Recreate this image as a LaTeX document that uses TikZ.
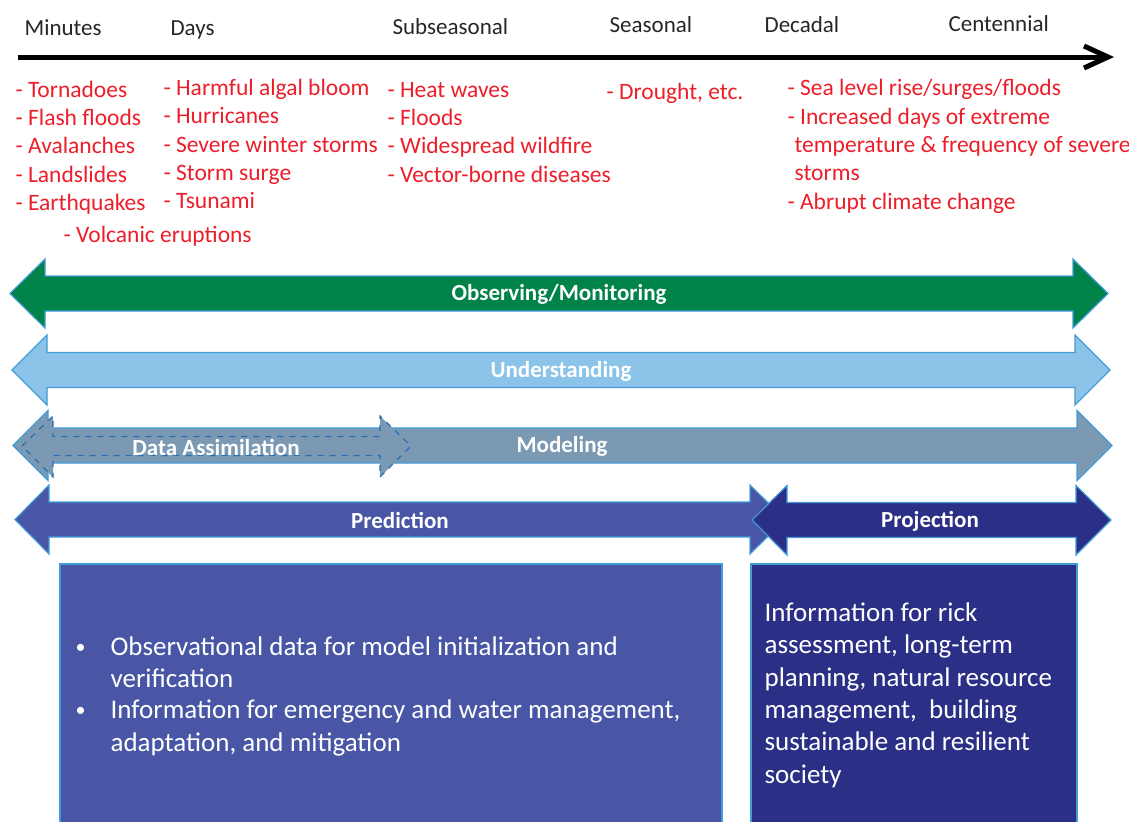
\documentclass[tikz,border=0pt]{standalone}
\usepackage{fontspec}
\setmainfont{Carlito}
\usepackage{xcolor}
\usetikzlibrary{arrows.meta}

\definecolor{obsgreen}{RGB}{0,131,72}
\definecolor{undblue}{RGB}{139,196,232}
\definecolor{modgray}{RGB}{123,153,178}
\definecolor{predblue}{RGB}{72,86,165}
\definecolor{projblue}{RGB}{43,47,134}
\definecolor{edgeblue}{RGB}{65,155,215}
\definecolor{dashblue}{RGB}{40,110,180}
\definecolor{hazardred}{RGB}{236,30,42}
\definecolor{labelgray}{RGB}{38,38,38}

\begin{document}
\begin{tikzpicture}[
		x=0.5pt, y=-0.5pt,
		line width=0.6pt,
		every node/.style={inner sep=0},
		scale label/.style={anchor=base west, text=labelgray, font=\fontsize{11.5}{14}\selectfont},
		hazard/.style={anchor=base west, text=hazardred, font=\fontsize{11.75}{14}\selectfont},
		band/.style={draw=edgeblue},
		band label/.style={text=white, font=\bfseries\fontsize{11.5}{14}\selectfont},
		info/.style={anchor=base west, text=white, font=\fontsize{13.5}{16}\selectfont}
		]
	\useasboundingbox (0, 0) rectangle (1129, 821);

	% Time axis
	\coordinate (axis start) at (18, 57);
	\coordinate (axis end) at (1114, 57);
	\draw[line width=2.5pt, -{Straight Barb[length=12pt, width=11pt]}] (axis start) -- (axis end);

	% Scale labels
	\node[scale label] (minutes) at (24, 35) {Minutes};
	\node[scale label] (days) at (170, 35) {Days};
	\node[scale label] (subseasonal) at (392, 34) {Subseasonal};
	\node[scale label] (seasonal) at (609, 32) {Seasonal};
	\node[scale label] (decadal) at (764, 32) {Decadal};
	\node[scale label] (centennial) at (948, 31) {Centennial};

	% Hazards per scale
	\foreach \y/\hazardtext [count=\i] in {97/Tornadoes, 125/Flash floods, 153/Avalanches, 182/Landslides, 210/Earthquakes}{
		\node[hazard] (minutes-\i) at (15, \y) {- \hazardtext};
	}
	\node[hazard] (volcanic) at (63, 242) {- Volcanic eruptions};

	\foreach \y/\hazardtext [count=\i] in {95/Harmful algal bloom, 123/Hurricanes, 152/Severe winter storms, 180/Storm surge, 208/Tsunami}{
		\node[hazard] (days-\i) at (163, \y) {- \hazardtext};
	}

	\foreach \y/\hazardtext [count=\i] in {97/Heat waves, 125/Floods, 153/Widespread wildfire, 182/Vector-borne diseases}{
		\node[hazard] (subseasonal-\i) at (387, \y) {- \hazardtext};
	}

	\node[hazard] (drought) at (606, 99) {- Drought, etc.};

	\node[hazard] (sea level) at (787, 95) {- Sea level rise/surges/floods};
	\node[hazard] (extreme) at (787, 124) {- Increased days of extreme};
	\node[hazard] (extreme-2) at (794, 152) {temperature \& frequency of severe};
	\node[hazard] (extreme-3) at (794, 180) {storms};
	\node[hazard] (abrupt) at (787, 209) {- Abrupt climate change};

	% Observing/Monitoring
	\draw[band, fill=obsgreen] (10, 293.5) -- (45, 259) -- (45, 276) -- (1073, 276) -- (1073, 259) -- (1108, 293.5)
		-- (1073, 328) -- (1073, 311) -- (45, 311) -- (45, 328) -- cycle;
	\node[band label] (observing) at (559, 294) {Observing/Monitoring};

	% Understanding
	\draw[band, fill=undblue] (12, 370) -- (47, 335) -- (47, 352.5) -- (1075, 352.5) -- (1075, 335) -- (1110, 370)
		-- (1075, 405) -- (1075, 387.5) -- (47, 387.5) -- (47, 405) -- cycle;
	\node[band label] (understanding) at (561, 371) {Understanding};

	% Modeling
	\draw[band, fill=modgray] (13, 445.5) -- (48, 410.5) -- (48, 428) -- (1077, 428) -- (1077, 410.5) -- (1112, 445.5)
		-- (1077, 480.5) -- (1077, 463) -- (48, 463) -- (48, 480.5) -- cycle;
	\node[band label] (modeling) at (562, 446) {Modeling};

	% Data assimilation
	\draw[draw=dashblue, dashed, fill=modgray] (22, 446) -- (53, 416) -- (53, 436.5) -- (380, 436.5) -- (380, 416) -- (411, 446)
		-- (380, 477) -- (380, 455.5) -- (53, 455.5) -- (53, 477) -- cycle;
	\node[band label] (assimilation) at (216, 447) {Data Assimilation};

	% Prediction
	\draw[band, fill=predblue] (15, 519.5) -- (49, 485) -- (49, 502) -- (750, 502) -- (750, 485) -- (785, 519.5)
		-- (750, 554) -- (750, 537) -- (49, 537) -- (49, 554) -- cycle;
	\node[band label] (prediction) at (400, 520) {Prediction};

	% Projection
	\draw[band, fill=projblue] (752, 520) -- (787, 485.5) -- (787, 502.5) -- (1076, 502.5) -- (1076, 485.5) -- (1111, 520)
		-- (1076, 555) -- (1076, 537.5) -- (787, 537.5) -- (787, 555) -- cycle;
	\node[band label] (projection) at (930, 521) {Projection};

	% Information boxes
	\draw[band, fill=predblue] (60, 564) rectangle (722, 830);
	\draw[band, fill=projblue] (751, 564) rectangle (1077, 830);

	\node[info, font=\fontsize{10}{12}\selectfont] (bullet-1) at (75, 653) {\textbullet};
	\node[info, font=\fontsize{10}{12}\selectfont] (bullet-2) at (75, 716) {\textbullet};
	\foreach \y/\infotext [count=\i] in {655/Observational data for model initialization and, 687/verification,
		718/{Information for emergency and water management,}, 751/{adaptation, and mitigation}}{
		\node[info] (prediction info-\i) at (110, \y) {\infotext};
	}

	\foreach \y/\infotext [count=\i] in {621/Information for rick, 653/{assessment, long-term}, 686/{planning, natural resource},
		718/{management,~ building}, 750/sustainable and resilient, 783/society}{
		\node[info] (projection info-\i) at (764, \y) {\infotext};
	}

\end{tikzpicture}
\end{document}
